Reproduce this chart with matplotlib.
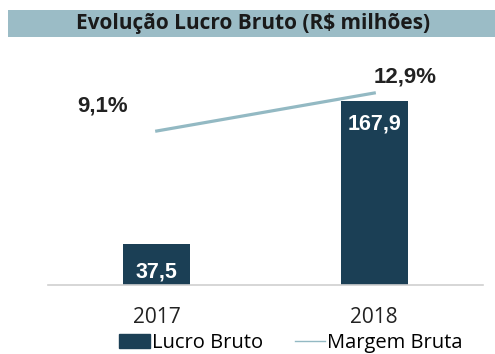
import matplotlib.pyplot as plt
from matplotlib.patches import Rectangle
from matplotlib.lines import Line2D

# Data
years = ['2017', '2018']
lucro_bruto = [37.5, 167.9]
margem_bruta = [9.1, 12.9]
lucro_labels = ['37,5', '167,9']
margem_labels = ['9,1%', '12,9%']

bar_color = '#1B3F55'
line_color = '#93B9C3'

fig = plt.figure(figsize=(4.95, 3.54), dpi=100)

# Title banner
fig.patches.append(Rectangle((8 / 495, 1 - 37 / 354), 1 - 8 / 495, 27 / 354,
                             transform=fig.transFigure, facecolor='#9BBCC6',
                             edgecolor='none'))
fig.text(253 / 495, 1 - 24 / 354, 'Evolução Lucro Bruto (R$ milhões)',
         ha='center', va='center', fontsize=15, fontweight='bold',
         family='Open Sans', color='#1a1a1a')

ax = fig.add_axes([48 / 495, 1 - 285 / 354, 435 / 495, 225 / 354])
x = range(len(years))
ax.bar(x, lucro_bruto, width=0.31, color=bar_color, zorder=2)
ax.set_xlim(-0.5, 1.5)
ax.set_ylim(0, 205.8)
ax.set_yticks([])
for s in ['top', 'right', 'left']:
    ax.spines[s].set_visible(False)
ax.spines['bottom'].set_color('#d0d0d0')
ax.spines['bottom'].set_linewidth(1.2)
ax.set_xticks(list(x))
ax.set_xticklabels(years, fontsize=15, family='Open Sans', color='#222222')
ax.tick_params(axis='x', length=0, pad=16)

# value labels inside the bars (offset in points below the bar top)
label_offsets = [-20, -16]
for i, v in enumerate(lucro_bruto):
    ax.annotate(lucro_labels[i], (i, v), xytext=(0, label_offsets[i]),
                textcoords='offset points', ha='center', va='center',
                color='white', fontsize=15.5, fontweight='bold',
                family='Liberation Sans')

# Gross margin on secondary axis
ax2 = ax.twinx()
ax2.plot(list(x), margem_bruta, color=line_color, linewidth=2.3, zorder=3)
ax2.set_ylim(-6.3, 16.2)
ax2.set_yticks([])
for s in ['top', 'right', 'left', 'bottom']:
    ax2.spines[s].set_visible(False)

ax2.text(-0.25, margem_bruta[0] + 2.5, margem_labels[0], ha='center', va='center',
         fontsize=16, fontweight='bold', family='Liberation Sans', color='#222222')
ax2.text(1.14, margem_bruta[1] + 1.6, margem_labels[1], ha='center', va='center',
         fontsize=16, fontweight='bold', family='Liberation Sans', color='#222222')

handles = [Rectangle((0, 0), 1, 1, color=bar_color),
           Line2D([0], [0], color=line_color, linewidth=1)]
fig.legend(handles, ['Lucro Bruto', 'Margem Bruta'], loc='center',
           bbox_to_anchor=(291 / 495, 1 - 343 / 354), ncol=2, frameon=False,
           prop={'family': 'Open Sans', 'size': 14.5}, handlelength=1.5,
           handletextpad=0.1, columnspacing=1.6, borderaxespad=0)

fig.savefig('out.png', dpi=100)
